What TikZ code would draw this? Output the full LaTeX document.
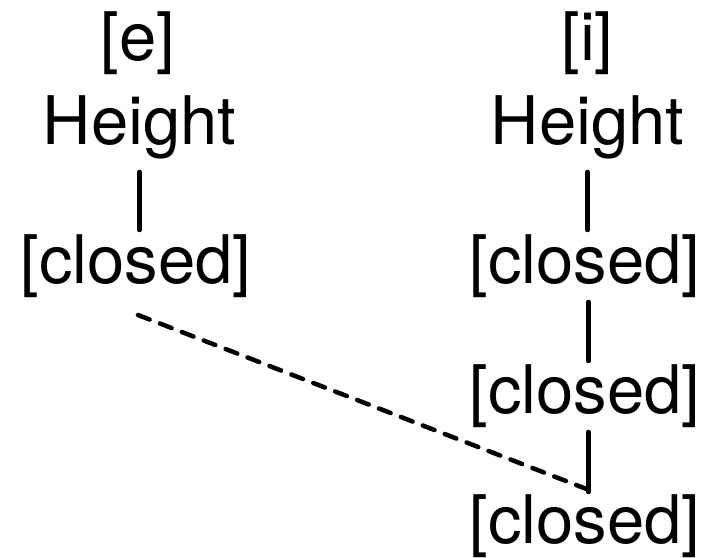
\documentclass[tikz,border=0pt]{standalone}
\usepackage{fontspec}
\setmainfont{TeX Gyre Heros}
\begin{document}
\begin{tikzpicture}[x=1pt,y=1pt,
  word/.style={anchor=base,inner sep=0pt,font=\fontsize{67}{80}\selectfont},
  stem/.style={line width=4.5pt,line cap=round},
  link/.style={line width=4.5pt,line cap=round,dash pattern=on 12.5pt off 11pt}]
\useasboundingbox (0,0) rectangle (704,557);
% left column
\node[word] (e)  at (138,496)   {[e]};
\node[word] (hL) at (139.5,412) {Height};
\node[word] (cL) at (136,273)   {[closed]};
% right column
\node[word] (i)  at (587.5,496) {[i]};
\node[word] (hR) at (587.5,412) {Height};
\node[word] (c1) at (585,273)   {[closed]};
\node[word] (c2) at (585,143)   {[closed]};
\node[word] (c3) at (585,14)    {[closed]};
% vertical stems
\draw[stem] ([yshift=-27pt]hL.base) -- ([yshift=54pt]cL.base -| hL.base);
\draw[stem] ([yshift=-27pt]hR.base) -- ([yshift=54pt]c1.base -| hR.base);
\draw[stem] ([shift={(1pt,-18pt)}]c1.base -| hR.base) -- ([shift={(1pt,53pt)}]c2.base -| hR.base);
\draw[stem] ([shift={(1pt,-18pt)}]c2.base -| hR.base) -- ([shift={(1pt,51pt)}]c3.base -| hR.base);
\coordinate (foot) at ([shift={(-1pt,54pt)}]c3.base -| hR.base);
% dashed association
\draw[link] ([shift={(2pt,-31pt)}]cL.base) -- (foot);
\end{tikzpicture}
\end{document}
